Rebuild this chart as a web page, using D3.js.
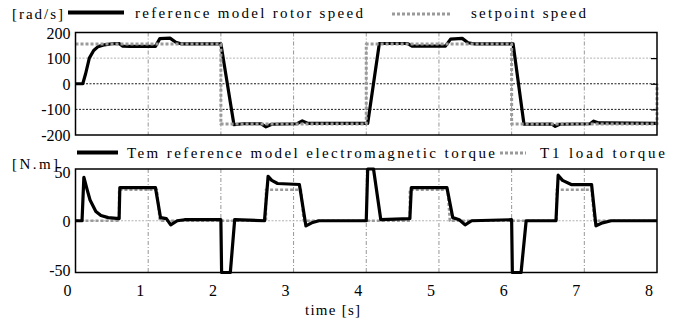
<!DOCTYPE html>
<html>
<head>
<meta charset="utf-8">
<script src="https://cdn.jsdelivr.net/npm/d3@7"></script>
</head>
<body style="margin:0; background:#fff">
<script>
// speed plot data
const speedT = [0, 0.1, 0.14, 0.19, 0.25, 0.31, 0.4, 0.5, 0.6, 0.65, 0.75, 1.1, 1.16, 1.3, 1.38, 1.45, 2.0, 2.18, 2.3, 2.55, 2.62, 2.7, 3.05, 3.12, 3.2, 4.02, 4.18, 4.57, 4.63, 5.09, 5.16, 5.32, 5.4, 5.48, 6.02, 6.17, 6.55, 6.6, 6.66, 7.08, 7.13, 7.2, 8.0];
const speedRef = [0, 0, 40, 100, 130, 145, 152, 156, 157, 147, 146, 146, 176, 178, 162, 156, 156, -160, -156, -156, -168, -158, -156, -145, -155, -155, 157, 157, 147, 147, 174, 177, 160, 156, 156, -158, -157, -166, -158, -156, -146, -153, -155];
const setpointT = [0, 2, 2, 4, 4, 6, 6, 8, 8];
const setpointV = [155, 155, -157, -157, 155, 155, -157, -157, 0];

// torque plot data
const torqueT = [0, 0.09, 0.115, 0.16, 0.2, 0.28, 0.35, 0.45, 0.6, 0.61, 1.1, 1.17, 1.25, 1.31, 1.4, 1.5, 2.0, 2.01, 2.13, 2.19, 2.6, 2.65, 2.7, 2.78, 3.08, 3.17, 3.25, 3.35, 4.0, 4.02, 4.1, 4.2, 4.6, 4.62, 5.11, 5.19, 5.28, 5.36, 5.45, 6.0, 6.01, 6.13, 6.2, 6.61, 6.64, 6.7, 6.82, 7.1, 7.16, 7.25, 7.37, 8.0];
const torqueV = [0, 0, 42, 30, 20, 9, 5, 3, 2, 32, 32, 3, 2, -4, 0, 1, 1, -55, -55, 1, 0, 43, 39, 36, 35, -5, -2, 0, 0, 55, 55, 1, 2, 32, 32, 3, 1, -4, 0, 1, -55, -55, 0, 0, 44, 39, 35, 35, -5, -2, 0, 0];
const loadT = [0, 0.6, 0.6, 1.12, 1.16, 2.62, 2.62, 3.1, 3.14, 4.6, 4.6, 5.12, 5.15, 6.62, 6.62, 7.1, 7.14, 8.0];
const loadV = [0, 0, 30, 30, 0, 0, 30, 30, 0, 0, 30, 30, 0, 0, 30, 30, 0, 0];

const timeTicks = [0, 1, 2, 3, 4, 5, 6, 7, 8];
const speedTicks = [-200, -100, 0, 100, 200];
const torqueTicks = [-50, 0, 50];

const W = 682, H = 325;
const left = 75.5, right = 657;
const top1 = 32.5, bot1 = 135;
const top2 = 169, bot2 = 272.5;

const svg = d3.select("body").append("svg")
    .attr("width", W)
    .attr("height", H);

const x = d3.scaleLinear().domain([0, 8]).range([left, right]);
const y1 = d3.scaleLinear().domain([-200, 200]).range([bot1, top1]);
const y2 = d3.scaleLinear().domain([-50, 50]).range([bot2, top2]);

// all text goes through here
function label(tx, ty, str, size, len, anchor) {
    const t = svg.append("text")
        .attr("x", tx).attr("y", ty)
        .attr("font-size", size)
        .style("font-family", "'Liberation Serif'")
        .attr("text-anchor", anchor || "start")
        .text(str);
    if (len) t.attr("textLength", len).attr("lengthAdjust", "spacing");
    return t;
}

function grid(y, top, bot, hLines) {
    const g = svg.append("g");
    g.selectAll(".vg")
        .data(timeTicks.slice(1, -1))
        .join("line")
        .attr("x1", d => x(d)).attr("x2", d => x(d))
        .attr("y1", top).attr("y2", bot)
        .attr("stroke", "#8a8a8a")
        .attr("stroke-width", 0.9)
        .attr("stroke-dasharray", "4,2,1,2");
    g.selectAll(".hg")
        .data(hLines)
        .join("line")
        .attr("x1", left).attr("x2", right)
        .attr("y1", d => y(d.v)).attr("y2", d => y(d.v))
        .attr("stroke", d => d.c)
        .attr("stroke-width", 0.9)
        .attr("stroke-dasharray", "2,1.5");
}

grid(y1, top1, bot1, [{v: 100, c: "#aaa"}, {v: 0, c: "#000"}, {v: -100, c: "#000"}]);
grid(y2, top2, bot2, [{v: 0, c: "#aaa"}]);

// clip series to the plot boxes by clamping the scales
y1.clamp(true);
y2.clamp(true);

function series(ts, vs, y, color, width, dash) {
    const pts = ts.map((t, i) => [t, vs[i]]);
    const line = d3.line().x(d => x(d[0])).y(d => y(d[1]));
    const p = svg.append("path")
        .datum(pts)
        .attr("fill", "none")
        .attr("stroke", color)
        .attr("stroke-width", width)
        .attr("stroke-linejoin", "round")
        .attr("d", line);
    if (dash) p.attr("stroke-dasharray", dash);
}

series(speedT, speedRef, y1, "#000", 3.2);
series(setpointT, setpointV, y1, "#9a9a9a", 3, "3,2");
series(loadT, loadV, y2, "#9a9a9a", 2.6, "3,2");
series(torqueT, torqueV, y2, "#000", 3.2);

// frames
[[top1, bot1], [top2, bot2]].forEach(([t, b]) => {
    svg.append("rect")
        .attr("x", left).attr("y", t)
        .attr("width", right - left).attr("height", b - t)
        .attr("fill", "none")
        .attr("stroke", "#000")
        .attr("stroke-width", 1.5);
});

// inward ticks on the right of speed plot
svg.append("g")
    .attr("transform", `translate(${right},0)`)
    .call(d3.axisLeft(y1).tickValues([100, 0, -100]).tickSize(6).tickFormat(""))
    .call(g => g.select(".domain").remove())
    .call(g => g.selectAll("line").attr("stroke-width", 1.2));

// tick labels
speedTicks.forEach(v => label(left - 5, y1(v) + 6, String(v), 16, null, "end"));
torqueTicks.forEach(v => label(left - 5, y2(v) + 6 + 0.06 * v, String(v), 16, null, "end"));
timeTicks.forEach(v => label(x(v) - 8, bot2 + 23, String(v), 16, null, "middle"));

label(305, 315, "time [s]", 15, 55);

// units
label(12, 19, "[rad/s]", 15, 51);
label(12, 169, "[N.m]", 15, 46);

// legends
function legendItem(x1, x2, ly, color, width, dash, tx, tLen, str, ty) {
    const l = svg.append("line")
        .attr("x1", x1).attr("x2", x2).attr("y1", ly).attr("y2", ly)
        .attr("stroke", color).attr("stroke-width", width);
    if (dash) l.attr("stroke-dasharray", dash);
    label(tx, ty, str, 15, tLen);
}
legendItem(68, 124, 12.5, "#000", 4, null, 135, 228, "reference model rotor speed", 18);
legendItem(392, 450, 14, "#9a9a9a", 3, "3,2", 471, 115, "setpoint speed", 18);
legendItem(77, 118, 152.5, "#000", 4, null, 127, 368, "Tem reference model electromagnetic torque", 158);
legendItem(500, 526, 153, "#9a9a9a", 3, "3,2", 540, 125, "T1 load torque", 158);
</script>
</body>
</html>
